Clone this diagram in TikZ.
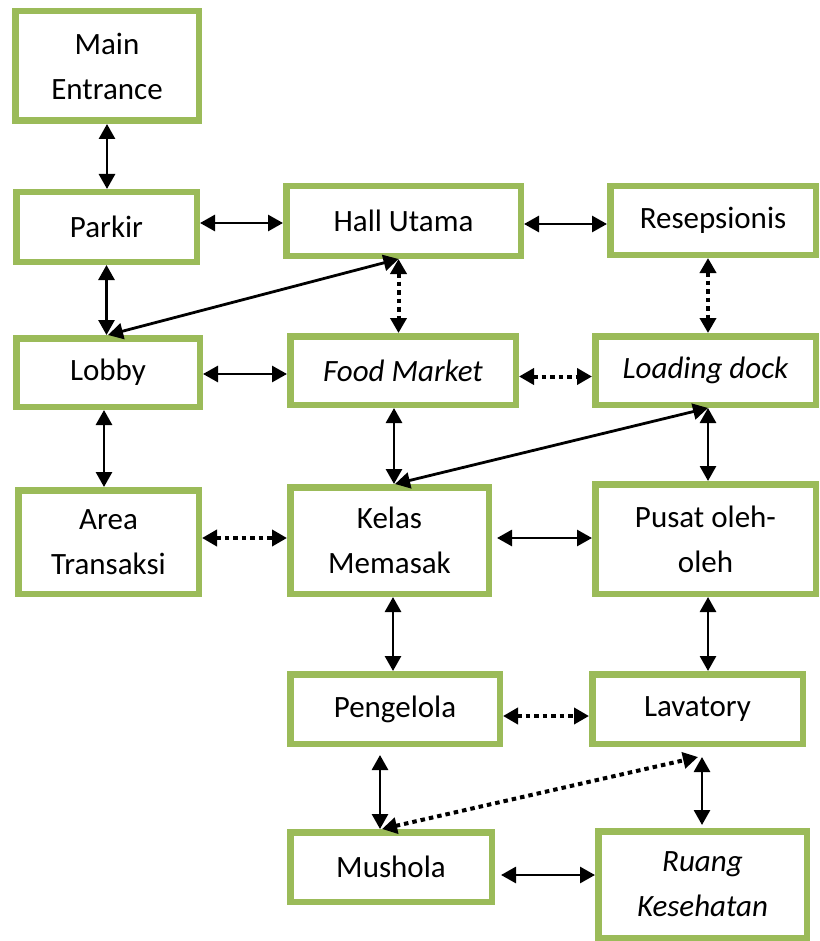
\documentclass[tikz,border=0pt]{standalone}
\usepackage{fontspec}
\setmainfont{Carlito}
\usetikzlibrary{arrows.meta}
\definecolor{boxgreen}{HTML}{9BBB59}
\begin{document}
\begin{tikzpicture}[x=1pt,y=-1pt,
  room/.style={draw=boxgreen, line width=6.5pt, fill=white, inner sep=0pt,
    align=center, font=\fontsize{31}{45}\selectfont},
  link/.style={line width=2.8pt, {Triangle[length=15pt,width=16pt]}-{Triangle[length=15pt,width=16pt]}},
  dotlink/.style={link, line width=4pt, dash pattern=on 4.5pt off 4pt}]
\useasboundingbox (0,0) rectangle (819,941);

% rooms (minimum size = outer size minus border width)
\node[room, minimum width=183.5, minimum height=109.5] (me)   at (107,66)    {Main\\Entrance};
\node[room, minimum width=180.5, minimum height=69.5]  (pk)   at (106.5,227) {Parkir};
\node[room, minimum width=234.5, minimum height=69.5]  (hall) at (403.5,221) {Hall Utama};
\node[room, minimum width=205.5, minimum height=68.5]  (res)  at (713,220.5) {Resepsionis};
\node[room, minimum width=183.5, minimum height=68.5]  (lob)  at (108,372.5) {Lobby};
\node[room, minimum width=225.5, minimum height=68.5]  (fm)   at (403,370.5) {\itshape Food Market};
\node[room, minimum width=220.5, minimum height=68.5]  (ld)   at (705.5,370.5) {\itshape Loading dock};
\node[room, minimum width=180.5, minimum height=103.5] (at)   at (108.5,542) {Area\\Transaksi};
\node[room, minimum width=198.5, minimum height=106.5] (km)   at (389.5,540.5) {Kelas\\Memasak};
\node[room, minimum width=220.5, minimum height=109.5] (po)   at (705.5,539) {Pusat oleh-\\oleh};
\node[room, minimum width=209.5, minimum height=69.5]  (peng) at (395,709)   {Pengelola};
\node[room, minimum width=210.5, minimum height=69.5]  (lav)  at (697.5,709) {Lavatory};
\node[room, minimum width=201.5, minimum height=69.5]  (mus)  at (391,867)   {Mushola};
\node[room, minimum width=208.5, minimum height=106.5] (rk)   at (702.5,884.5) {\itshape Ruang\\\itshape Kesehatan};

% connections
\draw[link] (me.south) -- (me.south |- pk.north);
\draw[link] (pk.south) -- (pk.south |- lob.north);
\draw[link] ([yshift=4pt]pk.east) -- ([yshift=4pt]pk.east -| hall.west);
\draw[link] ([yshift=-3pt]hall.east) -- ([yshift=-3pt]hall.east -| res.west);
\draw[link] (lob.north) -- ([xshift=-5pt]hall.south);
\draw[dotlink] ([xshift=-5pt]hall.south) -- ([xshift=-5pt]hall.south |- fm.north);
\draw[dotlink] ([xshift=-5pt]res.south) -- ([xshift=-5pt]res.south |- ld.north);
\draw[link] ([yshift=-1.5pt]lob.east) -- ([yshift=-1.5pt]lob.east -| fm.west);
\draw[dotlink] ([yshift=-6pt]fm.east) -- ([yshift=-6pt]fm.east -| ld.west);
\draw[link] ([xshift=-4pt]lob.south) -- ([xshift=-4pt]lob.south |- at.north);
\draw[link] ([xshift=-9pt]fm.south) -- ([xshift=-9pt]fm.south |- km.north);
\draw[link] ([xshift=5.5pt]km.north) -- ([xshift=2.5pt]ld.south);
\draw[link] ([xshift=2.5pt]ld.south) -- ([xshift=2.5pt]ld.south |- po.north);
\draw[dotlink] ([yshift=4pt]at.east) -- ([yshift=4pt]at.east -| km.west);
\draw[link] ([xshift=5pt,yshift=2.5pt]km.east) -- ([yshift=2.5pt]km.east -| po.west);
\draw[link] ([xshift=3.5pt]km.south) -- ([xshift=3.5pt]km.south |- peng.north);
\draw[link] ([xshift=2.5pt]po.south) -- ([xshift=2.5pt]po.south |- lav.north);
\draw[dotlink] ([yshift=-7pt]peng.east) -- ([yshift=-7pt]peng.east -| lav.west);
\draw[link] ([xshift=-15pt,yshift=-8pt]peng.south) -- ([xshift=-15pt]peng.south |- mus.north);
\draw[dotlink] ([xshift=-9pt]mus.north) -- ([xshift=0.5pt,yshift=-10pt]lav.south);
\draw[link] ([xshift=4.5pt,yshift=-10pt]lav.south) -- ([xshift=4.5pt,yshift=3pt]lav.south |- rk.north);
\draw[link] ([xshift=6pt,yshift=-8pt]mus.east) -- ([yshift=-8pt]mus.east -| rk.west);
\end{tikzpicture}
\end{document}
